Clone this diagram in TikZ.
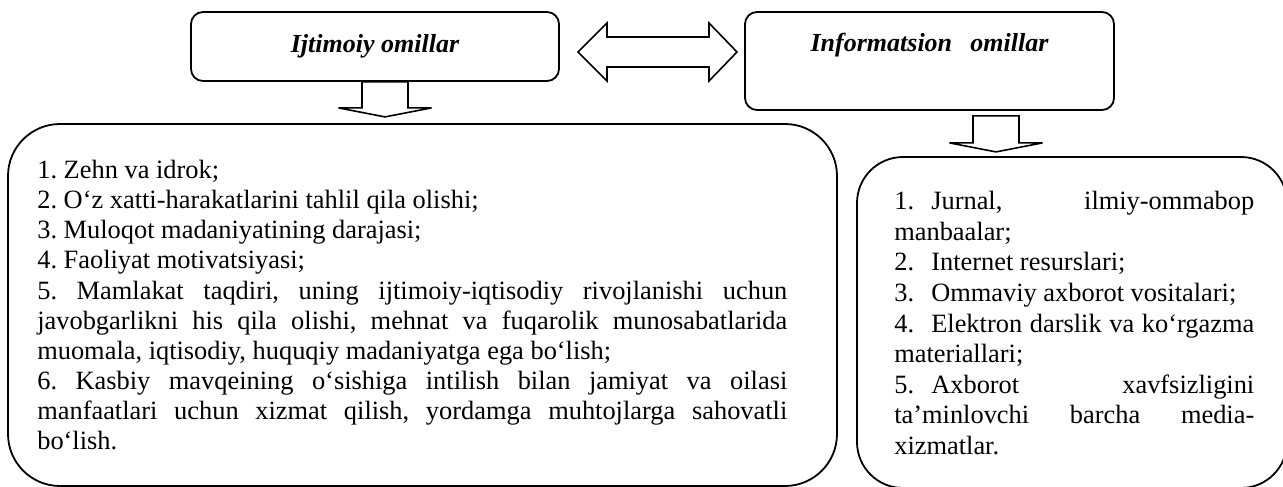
\documentclass[tikz,border=0pt]{standalone}
\usepackage{fontspec}
\setmainfont{Liberation Serif}
\usetikzlibrary{positioning,calc}
\tolerance=10000
\hyphenpenalty=10000
\frenchspacing

\begin{document}
\begin{tikzpicture}[x=1pt,y=-1pt,
    caja/.style={draw, line width=1.8pt, inner sep=0pt},
    titulo/.style={font=\fontsize{26}{30}\selectfont\bfseries\itshape, inner sep=0pt},
    lista/.style={font=\fontsize{26.4}{30.1}\selectfont, align=justify, inner sep=0pt, anchor=north west},
    hueca/.style={draw, line width=1.6pt, line join=miter}]

    \useasboundingbox (0,0) rectangle (1283,487);
    \clip (0,0) rectangle (1283,487);

    % cajas de arriba
    \node[caja, titulo, rounded corners=12pt, minimum width=368pt, minimum height=69pt] (ijt) at (375,46.5) {Ijtimoiy omillar};
    \node[caja, rounded corners=12pt, minimum width=369pt, minimum height=98pt] (inf) at (929.5,61) {};
    \node[titulo, below=22pt of inf.north] (inft) {Informatsion\hspace{0.7em}omillar};

    % cajas de abajo
    \node[caja, rounded corners=52pt, minimum width=829pt, minimum height=362pt] (ijtq) at (422.5,305) {};
    \node[caja, rounded corners=46pt, minimum width=430pt, minimum height=331pt] (infq) at (1072,322.5) {};

    % flecha doble
    \coordinate (dl) at (578,52);
    \coordinate (dr) at (737,52);
    \draw[hueca] (dl) -- ++(29,-29) -- ++(0,14) -- ($(dr)+(-28,-15)$) -- ++(0,-14) -- (dr)
        -- ++(-28,29) -- ++(0,-14) -- ($(dl)+(29,15)$) -- ++(0,14) -- cycle;

    % flechas hacia abajo
    \coordinate (f1) at ($(ijt.south)+(10,0)$);
    \draw[hueca] ($(f1)+(-23,0)$) -- ++(0,26) -- ++(-23.5,0) -- ++(46.5,9) -- ++(46.5,-9) -- ++(-23.5,0) -- ++(0,-26) -- cycle;
    \coordinate (f2) at ($(inf.south)+(66.5,5)$);
    \draw[hueca] ($(f2)+(-23,0)$) -- ++(0,27) -- ++(-23.5,0) -- ++(46.5,9) -- ++(46.5,-9) -- ++(-23.5,0) -- ++(0,-27) -- cycle;

    % textos
    \node[lista, text width=750pt, below right=37pt and 30pt of ijtq.north west] (ijtl) {%
        1. Zehn va idrok;\\
        2. O‘z xatti-harakatlarini tahlil qila olishi;\\
        3. Muloqot madaniyatining darajasi;\\
        4. Faoliyat motivatsiyasi;\\
        5. Mamlakat taqdiri, uning ijtimoiy-iqtisodiy rivojlanishi uchun\linebreak
        javobgarlikni his qila olishi, mehnat va fuqarolik munosabatlarida\linebreak
        muomala, iqtisodiy, huquqiy madaniyatga ega bo‘lish;\\
        6. Kasbiy mavqeining o‘sishiga intilish bilan jamiyat va oilasi\linebreak
        manfaatlari uchun xizmat qilish, yordamga muhtojlarga sahovatli\linebreak
        bo‘lish.};
    \node[lista, font=\fontsize{26.4}{30.6}\selectfont, text width=360pt, below right=35pt and 38pt of infq.north west] (infl) {%
        \makebox[37pt][l]{1.}Jurnal, ilmiy-ommabop\linebreak
        manbaalar;\\
        \makebox[37pt][l]{2.}Internet resurslari;\\
        \makebox[37pt][l]{3.}Ommaviy axborot vositalari;\\
        \makebox[37pt][l]{4.}Elektron darslik va ko‘rgazma\linebreak
        materiallari;\\
        \makebox[37pt][l]{5.}Axborot xavfsizligini\linebreak
        ta’minlovchi barcha media-\linebreak
        xizmatlar.};

\end{tikzpicture}
\end{document}
